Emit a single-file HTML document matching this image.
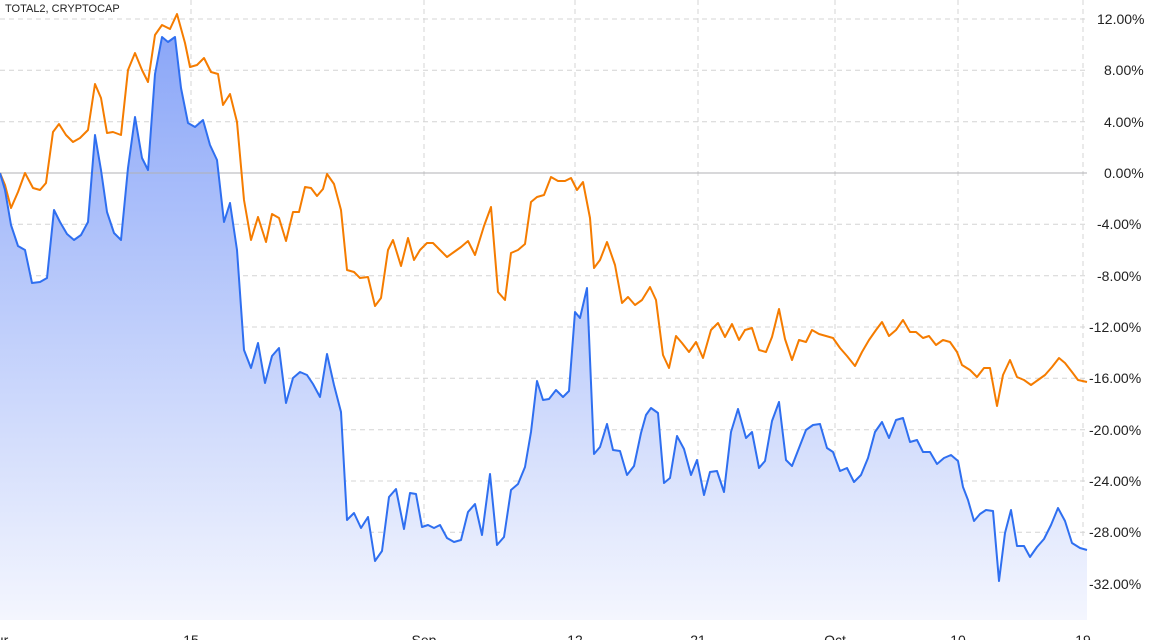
<!DOCTYPE html>
<html><head><meta charset="utf-8"><style>
html,body{margin:0;padding:0;background:#fff;width:1174px;height:640px;overflow:hidden}
svg{display:block;font-family:"Liberation Sans",sans-serif}
</style></head><body>
<svg width="1174" height="640" viewBox="0 0 1174 640">
<defs><linearGradient id="g" gradientUnits="userSpaceOnUse" x1="0" y1="30" x2="0" y2="620">
<stop offset="0" stop-color="#8aa6f8"/><stop offset="1" stop-color="#f4f6fe"/></linearGradient></defs>
<g stroke="#d4d4d4" stroke-dasharray="5,4" stroke-width="1">
<line x1="0" x2="1087" y1="19" y2="19"/><line x1="0" x2="1087" y1="70.3" y2="70.3"/><line x1="0" x2="1087" y1="121.7" y2="121.7"/><line x1="0" x2="1087" y1="224.3" y2="224.3"/><line x1="0" x2="1087" y1="275.7" y2="275.7"/><line x1="0" x2="1087" y1="327" y2="327"/><line x1="0" x2="1087" y1="378.3" y2="378.3"/><line x1="0" x2="1087" y1="429.7" y2="429.7"/><line x1="0" x2="1087" y1="481" y2="481"/><line x1="0" x2="1087" y1="532.3" y2="532.3"/><line x1="0" x2="1087" y1="583.7" y2="583.7"/>
<line x1="191" x2="191" y1="0" y2="620"/><line x1="424" x2="424" y1="0" y2="620"/><line x1="575" x2="575" y1="0" y2="620"/><line x1="698" x2="698" y1="0" y2="620"/><line x1="835" x2="835" y1="0" y2="620"/><line x1="958" x2="958" y1="0" y2="620"/><line x1="1083" x2="1083" y1="0" y2="620"/>
</g>
<path fill="url(#g)" d="M0,620 L0,173 5,190 11,225 18,246 25,250 32,283 40,282 47,278 54,210 60,222 67,234 74,240 81,235 88,222 95,135 101,170 107,212 114,233 121,240 128,168 135,117 142,158 148,170 155,74 162,37 168,42 175,37 181,88 188,123 195,127 203,120 210,145 217,160 224,222 230,203 237,250 244,350 251,368 258,343 265,383 272,356 279,348 286,403 293,378 300,372 307,375 313,384 320,397 327,354 334,385 341,412 347,520 354,513 361,528 368,517 375,561 382,551 389,497 396,489 404,529 410,493 416,494 422,527 428,525 434,528 440,525 447,538 454,542 461,540 468,512 475,504 482,535 490,474 497,545 504,537 511,490 518,484 525,467 531,432 537,381 543,400 549,399 556,390 563,397 569,391 575,312 580,318 587,288 594,454 600,447 607,424 613,450 620,451 627,475 634,466 641,433 646,415 651,408 658,413 664,483 670,478 677,436 684,449 691,475 697,460 704,495 710,472 717,471 724,492 731,432 738,409 746,438 752,432 759,468 765,461 772,421 779,402 786,460 792,466 799,448 806,430 813,425 820,424 827,448 833,452 840,471 847,468 854,482 861,475 868,458 875,432 882,422 889,438 896,420 903,418 910,442 917,440 923,452 930,452 937,464 944,458 951,455 958,461 963,487 968,500 974,521 980,514 986,510 993,511 999,581 1005,533 1011,510 1017,546 1024,546 1030,557 1037,547 1044,539 1051,525 1058,508 1065,521 1072,543 1080,548 1087,550 L1087,620 Z"/>
<line x1="0" x2="1087" y1="173" y2="173" stroke="#b0b0b4" stroke-width="1"/>
<polyline fill="none" stroke="#f57c00" stroke-width="2" stroke-linejoin="round" points="0,173 5,185 11,208 18,192 25,173 33,188 40,190 46,183 53,132 59,124 66,135 73,142 80,138 88,130 95,84 101,98 107,133 113,132 121,135 128,70 135,53 142,70 148,82 155,35 162,25 170,29 177,14 185,43 190,67 197,65 204,58 211,72 218,74 223,105 230,94 237,122 244,200 251,240 258,217 266,242 272,214 279,218 286,241 293,212 299,212 305,187 311,188 317,196 323,189 327,174 334,184 341,210 347,270 354,272 360,278 368,277 375,306 381,298 388,250 393,240 401,266 408,238 414,260 420,250 427,243 433,243 440,250 447,257 454,252 461,247 468,241 475,255 484,226 491,207 498,292 505,300 511,253 518,250 525,244 531,202 537,197 544,195 551,177 558,181 565,181 571,178 577,190 583,182 590,218 594,268 600,260 607,242 615,265 622,303 628,297 635,305 642,300 650,287 656,300 663,355 669,368 676,336 682,343 689,352 696,342 703,358 711,330 718,323 725,337 732,324 739,340 745,330 752,328 759,350 766,352 772,337 779,309 785,339 792,360 799,340 806,342 812,330 819,334 826,336 833,338 840,348 847,356 855,366 862,352 869,340 876,330 882,322 889,336 896,330 903,320 910,332 916,332 923,338 929,336 936,345 943,340 950,342 957,352 962,365 970,370 977,377 984,368 990,368 997,406 1003,375 1010,360 1017,377 1024,380 1031,385 1038,380 1045,375 1052,367 1059,358 1065,363 1072,372 1078,380 1087,382"/>
<polyline fill="none" stroke="#2f6ff0" stroke-width="2" stroke-linejoin="round" points="0,173 5,190 11,225 18,246 25,250 32,283 40,282 47,278 54,210 60,222 67,234 74,240 81,235 88,222 95,135 101,170 107,212 114,233 121,240 128,168 135,117 142,158 148,170 155,74 162,37 168,42 175,37 181,88 188,123 195,127 203,120 210,145 217,160 224,222 230,203 237,250 244,350 251,368 258,343 265,383 272,356 279,348 286,403 293,378 300,372 307,375 313,384 320,397 327,354 334,385 341,412 347,520 354,513 361,528 368,517 375,561 382,551 389,497 396,489 404,529 410,493 416,494 422,527 428,525 434,528 440,525 447,538 454,542 461,540 468,512 475,504 482,535 490,474 497,545 504,537 511,490 518,484 525,467 531,432 537,381 543,400 549,399 556,390 563,397 569,391 575,312 580,318 587,288 594,454 600,447 607,424 613,450 620,451 627,475 634,466 641,433 646,415 651,408 658,413 664,483 670,478 677,436 684,449 691,475 697,460 704,495 710,472 717,471 724,492 731,432 738,409 746,438 752,432 759,468 765,461 772,421 779,402 786,460 792,466 799,448 806,430 813,425 820,424 827,448 833,452 840,471 847,468 854,482 861,475 868,458 875,432 882,422 889,438 896,420 903,418 910,442 917,440 923,452 930,452 937,464 944,458 951,455 958,461 963,487 968,500 974,521 980,514 986,510 993,511 999,581 1005,533 1011,510 1017,546 1024,546 1030,557 1037,547 1044,539 1051,525 1058,508 1065,521 1072,543 1080,548 1087,550"/>
<text x="5" y="12" font-size="11" fill="#222">TOTAL2, CRYPTOCAP</text>
<g font-size="14" fill="#222">
<text x="1097" y="24">12.00%</text>
<text x="1104" y="75">8.00%</text><text x="1104" y="127">4.00%</text><text x="1104" y="178">0.00%</text>
<text x="1097" y="229">-4.00%</text><text x="1097" y="281">-8.00%</text><text x="1089" y="332">-12.00%</text><text x="1089" y="383">-16.00%</text><text x="1089" y="435">-20.00%</text><text x="1089" y="486">-24.00%</text><text x="1089" y="537">-28.00%</text><text x="1089" y="589">-32.00%</text>
</g>
<g font-size="14" fill="#222" text-anchor="middle">
<text x="2" y="645">ur</text><text x="191" y="645">15</text><text x="424" y="645">Sep</text><text x="575" y="645">12</text><text x="698" y="645">21</text><text x="835" y="645">Oct</text><text x="958" y="645">10</text><text x="1083" y="645">19</text>
</g>
</svg>
</body></html>
